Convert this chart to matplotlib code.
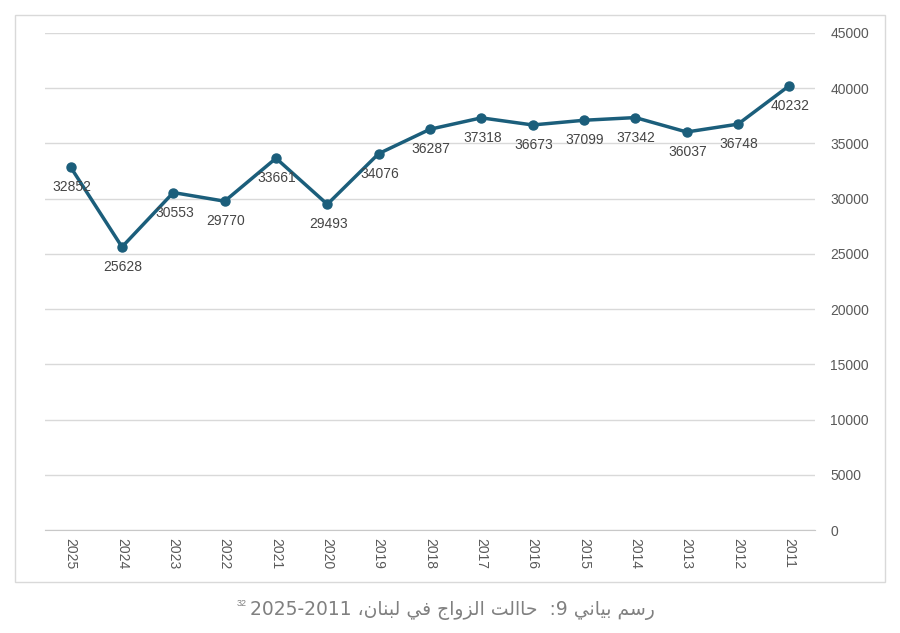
import matplotlib
matplotlib.use("Agg")
import matplotlib.pyplot as plt
from matplotlib.patches import Rectangle

# data (left to right as drawn)
years = ["2025", "2024", "2023", "2022", "2021", "2020", "2019", "2018",
         "2017", "2016", "2015", "2014", "2013", "2012", "2011"]
marriages = [32852, 25628, 30553, 29770, 33661, 29493, 34076, 36287,
             37318, 36673, 37099, 37342, 36037, 36748, 40232]
y_ticks = [0, 5000, 10000, 15000, 20000, 25000, 30000, 35000, 40000, 45000]

caption_ar = "رسم بياني 9:  حاالت الزواج في لبنان،"
caption_years = "2025-2011"

# matplotlib has no arabic shaping, so do it by hand with presentation forms
forms = {
    "ا": ("\uFE8D", "\uFE8E", None, None),
    "ب": ("\uFE8F", "\uFE90", "\uFE91", "\uFE92"),
    "ت": ("\uFE95", "\uFE96", "\uFE97", "\uFE98"),
    "ج": ("\uFE9D", "\uFE9E", "\uFE9F", "\uFEA0"),
    "ح": ("\uFEA1", "\uFEA2", "\uFEA3", "\uFEA4"),
    "ر": ("\uFEAD", "\uFEAE", None, None),
    "ز": ("\uFEAF", "\uFEB0", None, None),
    "س": ("\uFEB1", "\uFEB2", "\uFEB3", "\uFEB4"),
    "ف": ("\uFED1", "\uFED2", "\uFED3", "\uFED4"),
    "ل": ("\uFEDD", "\uFEDE", "\uFEDF", "\uFEE0"),
    "م": ("\uFEE1", "\uFEE2", "\uFEE3", "\uFEE4"),
    "ن": ("\uFEE5", "\uFEE6", "\uFEE7", "\uFEE8"),
    "و": ("\uFEED", "\uFEEE", None, None),
    "ي": ("\uFEF1", "\uFEF2", "\uFEF3", "\uFEF4"),
}


def joins_next(c):
    return c in forms and forms[c][2] is not None


def shape(s):
    out = []
    for i, c in enumerate(s):
        if c not in forms:
            out.append(c)
            continue
        prev = s[i - 1] if i > 0 else ""
        nxt = s[i + 1] if i + 1 < len(s) else ""
        p = joins_next(prev)
        n = joins_next(c) and nxt in forms
        iso, fin, ini, med = forms[c]
        if p and n:
            out.append(med)
        elif p:
            out.append(fin)
        elif n:
            out.append(ini)
        else:
            out.append(iso)
    return "".join(out)


caption_visual = caption_years + " " + shape(caption_ar)[::-1]

line_col = "#1b5e7b"
txt_col = "#595959"
grid_col = "#d9d9d9"

fig = plt.figure(figsize=(9, 6.33), dpi=100)
fig.patches.append(Rectangle((15 / 900, 1 - 582 / 633), 870 / 900, 567 / 633,
                             transform=fig.transFigure, fill=False,
                             edgecolor=grid_col, linewidth=1))

ax = fig.add_axes([45 / 900, 1 - 530 / 633, 770 / 900, 497 / 633])
x = list(range(len(years)))
ax.plot(x, marriages, color=line_col, linewidth=2.5, marker="o",
        markersize=6.5, zorder=3)

for xi, v in zip(x, marriages):
    ax.annotate(str(v), (xi, v), xytext=(1, -20), textcoords="offset pixels",
                ha="center", va="center", fontsize=10,
                family="Liberation Sans", color="#454545", zorder=4)

ax.set_xlim(-0.5, len(years) - 0.5)
ax.set_ylim(0, 45000)
ax.set_yticks(y_ticks)
ax.set_yticklabels([str(t) for t in y_ticks])
ax.yaxis.tick_right()
ax.set_xticks(x)
ax.set_xticklabels(years, rotation=270)
ax.tick_params(axis="both", length=0, labelsize=10, labelcolor=txt_col)
ax.tick_params(axis="y", pad=11)
ax.tick_params(axis="x", pad=6)
for lab in ax.get_yticklabels():
    lab.set_horizontalalignment("left")
    lab.set_family("Liberation Sans")
for lab in ax.get_xticklabels():
    lab.set_family("Liberation Sans")

ax.grid(axis="y", color=grid_col, linewidth=1)
ax.set_axisbelow(True)
for side in ["top", "right", "left"]:
    ax.spines[side].set_visible(False)
ax.spines["bottom"].set_color("#c8c8c8")

fig.text(452 / 900, 1 - 611 / 633, caption_visual, ha="center",
         va="center", fontsize=13.5, family="DejaVu Sans",
         color="#808080")
# footnote mark, small and raised, left of the years
fig.text(247 / 900, 1 - 603 / 633, "32", ha="right", va="center",
         fontsize=6.5, family="Liberation Sans", color="#808080")

fig.savefig("out.png", dpi=100)
